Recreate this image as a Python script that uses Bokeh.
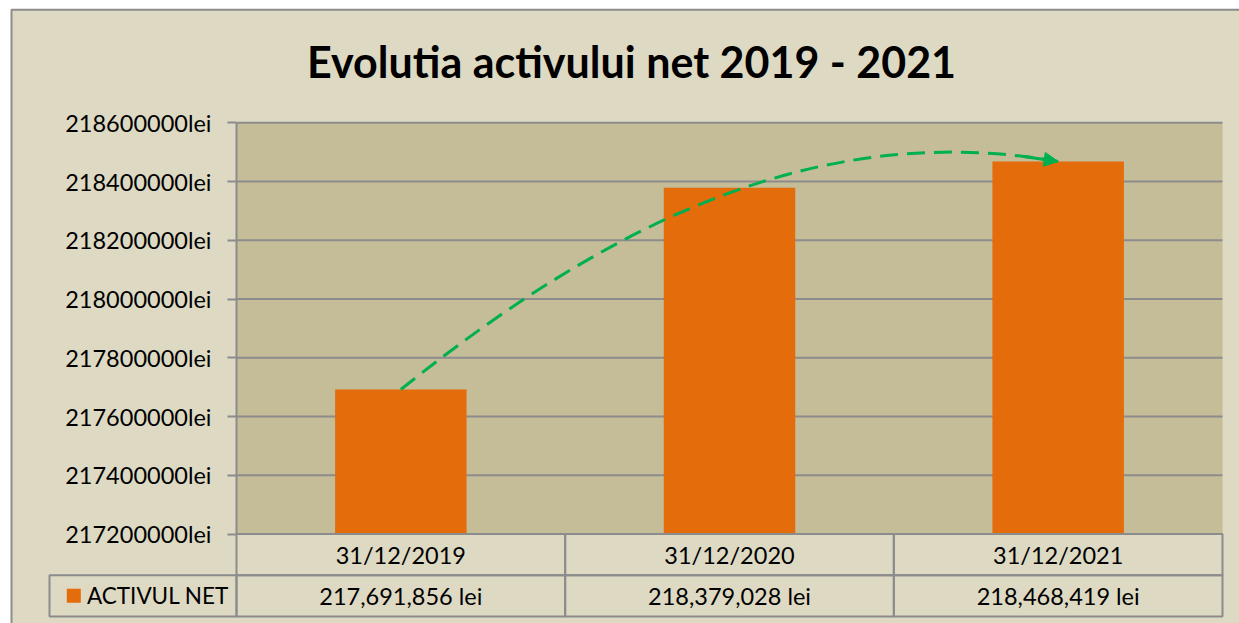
from bokeh.plotting import figure
from bokeh.models import Range1d, FixedTicker, PrintfTickFormatter, Arrow, NormalHead
from bokeh.core.properties import value
from bokeh.embed import file_html
from bokeh.resources import INLINE

# ---------------- data ----------------
TITLE = "Evolutia activului net 2019 - 2021"
CATEGORIES = ["31/12/2019", "31/12/2020", "31/12/2021"]
SERIES_NAME = "ACTIVUL NET"
VALUES = [217691856, 218379028, 218468419]
Y_TICKS = [217200000, 217400000, 217600000, 217800000,
           218000000, 218200000, 218400000, 218600000]

# ---------------- style ----------------
BG = "#DDD9C3"
PLOT_BG = "#C4BD97"
GRID = "#8C8C8C"
BAR = "#E46C0A"
GREEN = "#00B050"
FONT = value("Lato")
FS = "23.5px"

W, H = 1239, 623
AXIS_MIN = Y_TICKS[0]
AXIS_MAX = Y_TICKS[-1]
N = len(CATEGORIES)
XS = [i + 0.5 for i in range(N)]

# scales (pixels per unit)
PX_X = 986 / N
PX_Y = 411.2 / (AXIS_MAX - AXIS_MIN)
PLOT_LEFT_PX, PLOT_TOP_PX = 236, 122.3
XL = -PLOT_LEFT_PX / PX_X
XR = (W - PLOT_LEFT_PX) / PX_X
Y1 = AXIS_MAX + PLOT_TOP_PX / PX_Y
Y0 = AXIS_MAX - (H - PLOT_TOP_PX) / PX_Y
ROW = 41.2 / PX_Y
LEG_L = -187 / PX_X
CHART_L = -225 / PX_X
CHART_T = AXIS_MAX + 113 / PX_Y

p = figure(width=W, height=H,
           x_range=Range1d(XL, XR), y_range=Range1d(Y0, Y1),
           x_axis_location=None,
           output_backend="svg", toolbar_location=None,
           min_border_left=0, min_border_right=0,
           min_border_top=0, min_border_bottom=0,
           background_fill_color="#FFFFFF", border_fill_color="#FFFFFF",
           outline_line_color=None)
p.xgrid.visible = False
p.ygrid.visible = False

# chart area background with outer border
p.quad(left=[CHART_L], right=[XR + 1], bottom=[Y0 - ROW], top=[CHART_T],
       fill_color=BG, line_color="#8C8C8C", line_width=2)

ax = p.yaxis[0]
ax.fixed_location = 0
ax.ticker = FixedTicker(ticks=Y_TICKS)
ax.formatter = PrintfTickFormatter(format="%dlei")
ax.axis_line_color = None
ax.major_tick_line_color = GRID
ax.major_tick_line_width = 2
ax.major_tick_out = 9
ax.major_tick_in = 0
ax.minor_tick_line_color = None
ax.major_label_text_font = "Lato"
ax.major_label_text_font_size = FS
ax.major_label_text_color = "#000000"
ax.major_label_standoff = 16

# plot area
p.quad(left=[0], right=[N], bottom=[AXIS_MIN], top=[AXIS_MAX],
       fill_color=PLOT_BG, line_color=None)
# gridlines
p.segment(x0=[0] * len(Y_TICKS), x1=[N] * len(Y_TICKS), y0=Y_TICKS, y1=Y_TICKS,
          line_color=GRID, line_width=2)
# plot area left border
p.segment(x0=[0], x1=[0], y0=[AXIS_MIN], y1=[AXIS_MAX], line_color=GRID, line_width=2)

# bars
p.vbar(x=XS, width=0.4, bottom=AXIS_MIN, top=VALUES, fill_color=BAR, line_color=None)

# data table
p.quad(left=list(range(N)), right=list(range(1, N + 1)),
       bottom=[AXIS_MIN - ROW] * N, top=[AXIS_MIN] * N,
       fill_color=None, line_color=GRID, line_width=2)
p.quad(left=[LEG_L] + list(range(N)), right=list(range(N + 1)),
       bottom=[AXIS_MIN - 2 * ROW] * (N + 1), top=[AXIS_MIN - ROW] * (N + 1),
       fill_color=None, line_color=GRID, line_width=2)
p.text(x=XS, y=[AXIS_MIN - ROW / 2] * N, text=CATEGORIES,
       text_font=FONT, text_font_size=FS, text_color="#000000",
       text_align="center", text_baseline="middle")
p.scatter(x=[-0.495], y=[AXIS_MIN - 1.5 * ROW], marker="square", size=14,
          fill_color=BAR, line_color=None)
p.text(x=[-0.455], y=[AXIS_MIN - 1.5 * ROW], text=[SERIES_NAME],
       text_font=FONT, text_font_size="22.5px", text_color="#000000",
       text_align="left", text_baseline="middle")
p.text(x=XS, y=[AXIS_MIN - 1.5 * ROW] * N, text=[f"{v:,} lei" for v in VALUES],
       text_font=FONT, text_font_size=FS, text_color="#000000",
       text_align="center", text_baseline="middle")

# title
p.text(x=[1.202], y=[AXIS_MAX + (PLOT_TOP_PX - 61) / PX_Y], text=[TITLE],
       text_font=FONT, text_font_size="43px", text_font_style="bold",
       text_color="#000000", text_align="center", text_baseline="middle")

# green trend arrow (cubic curve from bar 1 top to bar 3 top)
P0 = (XS[0], VALUES[0])
P3 = (XS[-1], VALUES[-1])
C1 = (1.168, 218291200)
C2 = (1.798, 218605300)
p.bezier(x0=[P0[0]], y0=[P0[1]], x1=[P3[0]], y1=[P3[1]],
         cx0=[C1[0]], cy0=[C1[1]], cx1=[C2[0]], cy1=[C2[1]],
         line_color=GREEN, line_width=3, line_dash="18 9")


def bez(t):
    a = (1 - t) ** 3
    b = 3 * t * (1 - t) ** 2
    c = 3 * t * t * (1 - t)
    d = t ** 3
    return (a * P0[0] + b * C1[0] + c * C2[0] + d * P3[0],
            a * P0[1] + b * C1[1] + c * C2[1] + d * P3[1])


sx, sy = bez(0.95)
p.add_layout(Arrow(end=NormalHead(size=14, fill_color=GREEN, line_color=GREEN),
                   x_start=sx, y_start=sy, x_end=P3[0], y_end=P3[1],
                   line_color=GREEN, line_width=3))

open("out.html", "w").write(file_html(p, INLINE))
